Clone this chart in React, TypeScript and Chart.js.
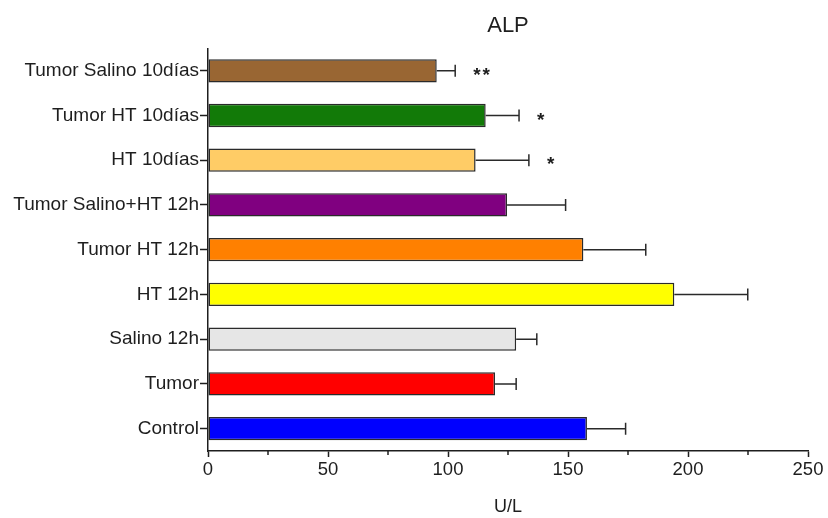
import React, { useEffect, useRef } from "react";
import { Chart, registerables } from "chart.js";

Chart.register(...registerables);

const categories = [
  "Tumor Salino 10días",
  "Tumor HT 10días",
  "HT 10días",
  "Tumor Salino+HT 12h",
  "Tumor HT 12h",
  "HT 12h",
  "Salino 12h",
  "Tumor",
  "Control",
];
const means = [95.3, 115.7, 111.5, 124.6, 156.4, 194.3, 128.4, 119.6, 157.9];
const errors = [7.7, 13.9, 22.2, 24.4, 26.0, 30.6, 8.6, 8.8, 16.1];
const significance = ["**", "*", "*", "", "", "", "", "", ""];
const barColors = [
  "#996633",
  "#127a08",
  "#ffcc66",
  "#800080",
  "#ff8000",
  "#ffff00",
  "#e6e6e6",
  "#ff0000",
  "#0000ff",
];
const xTicks = [0, 50, 100, 150, 200, 250];
const xMinorTicks = [25, 75, 125, 175, 225];

const FONT = "'Liberation Sans', Arial, Helvetica, sans-serif";
const INK = "#1e1e1e";

const errorBarPlugin = {
  id: "errorBars",
  afterDatasetsDraw(chart: any) {
    const ctx = chart.ctx;
    const meta = chart.getDatasetMeta(0);
    const xs = chart.scales.x;
    ctx.save();
    ctx.strokeStyle = "#2a2a2a";
    ctx.lineWidth = 1.5;
    meta.data.forEach((bar: any, i: number) => {
      const x0 = bar.x;
      const y = bar.y;
      const x1 = xs.getPixelForValue(means[i] + errors[i]);
      ctx.beginPath();
      ctx.moveTo(x0, y);
      ctx.lineTo(x1, y);
      ctx.moveTo(x1, y - 6);
      ctx.lineTo(x1, y + 6);
      ctx.stroke();
      const sig = significance[i];
      if (sig) {
        ctx.fillStyle = INK;
        ctx.font = `bold 19px ${FONT}`;
        ctx.textAlign = "left";
        ctx.textBaseline = "middle";
        try {
          (ctx as any).letterSpacing = "2px";
        } catch (e) {}
        ctx.fillText(sig, x1 + 18, y + 5);
        try {
          (ctx as any).letterSpacing = "0px";
        } catch (e) {}
      }
    });
    ctx.restore();
  },
  afterDraw(chart: any) {
    const ctx = chart.ctx;
    const xs = chart.scales.x;
    const bottom = chart.chartArea.bottom;
    ctx.save();
    ctx.strokeStyle = INK;
    ctx.lineWidth = 1.5;
    xMinorTicks.forEach((v) => {
      const x = xs.getPixelForValue(v);
      ctx.beginPath();
      ctx.moveTo(x, bottom);
      ctx.lineTo(x, bottom + 4);
      ctx.stroke();
    });
    ctx.restore();
  },
};

export default function App() {
  const ref = useRef<HTMLCanvasElement | null>(null);

  useEffect(() => {
    if (!ref.current) return;
    const chart = new Chart(ref.current, {
      type: "bar",
      data: {
        labels: categories,
        datasets: [
          {
            data: means,
            backgroundColor: barColors,
            borderColor: "#2a2a2a",
            borderWidth: 1.5,
            borderSkipped: false,
            categoryPercentage: 1,
            barPercentage: 0.52,
          },
        ],
      },
      options: {
        indexAxis: "y",
        responsive: false,
        animation: false,
        devicePixelRatio: 1,
        layout: { padding: { left: 0, right: 20, top: 0, bottom: 0 } },
        plugins: {
          legend: { display: false },
          tooltip: { enabled: false },
          title: {
            display: true,
            fullSize: false,
            text: "ALP",
            color: INK,
            font: { family: FONT, size: 22, weight: "normal" },
            padding: { top: 13, bottom: 9 },
          },
        },
        scales: {
          x: {
            type: "linear",
            min: 0,
            max: 250,
            afterBuildTicks: (scale: any) => {
              scale.ticks = xTicks.map((v) => ({ value: v }));
            },
            afterFit: (scale: any) => {
              scale.height = 67;
            },
            ticks: {
              color: INK,
              padding: 2,
              font: { family: FONT, size: 18.5 },
            },
            grid: {
              drawOnChartArea: false,
              drawTicks: true,
              tickLength: 6,
              tickColor: INK,
              tickWidth: 1.5,
            },
            border: { display: true, color: INK, width: 1.5 },
            title: {
              display: true,
              text: "U/L",
              color: INK,
              font: { family: FONT, size: 18 },
              padding: { top: 0, bottom: 0 },
            },
          },
          y: {
            type: "category",
            afterFit: (scale: any) => {
              scale.width = 208;
            },
            ticks: {
              color: INK,
              padding: 1,
              font: { family: FONT, size: 19 },
            },
            grid: {
              offset: false,
              drawOnChartArea: false,
              drawTicks: true,
              tickLength: 8,
              tickColor: INK,
              tickWidth: 1.5,
            },
            border: { display: true, color: INK, width: 1.5 },
          },
        },
      },
      plugins: [errorBarPlugin],
    } as any);
    return () => chart.destroy();
  }, []);

  return (
    <div style={{ position: "fixed", left: 0, top: 0, width: 828, height: 518, background: "#fff" }}>
      <canvas ref={ref} width={828} height={518} style={{ width: 828, height: 518 }} />
    </div>
  );
}
